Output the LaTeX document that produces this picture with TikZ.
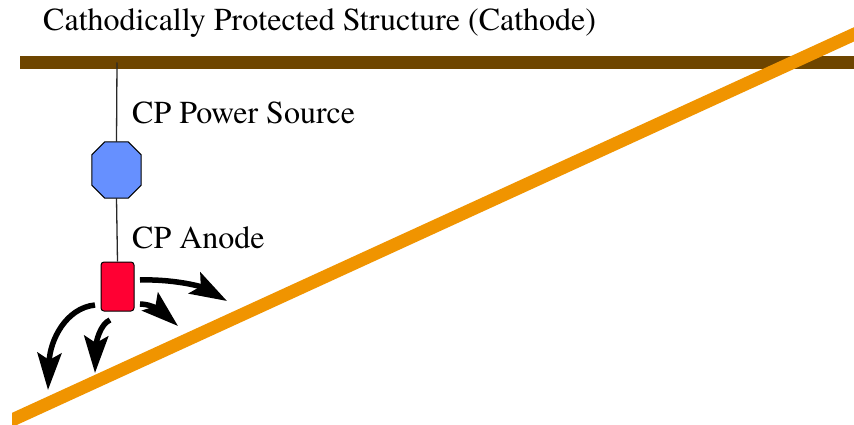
\documentclass[tikz,border=0pt]{standalone}
\usepackage{fontspec}
\newfontfamily\lblfont{TeX Gyre Termes}
\usetikzlibrary{arrows.meta}
\definecolor{barbrown}{RGB}{110,69,0}
\definecolor{soilorange}{RGB}{240,148,0}
\definecolor{srcblue}{RGB}{102,144,255}
\definecolor{anodered}{RGB}{255,0,51}
\definecolor{wiregray}{RGB}{40,40,40}
\tikzset{
  lbl/.style={anchor=base west,inner sep=0pt,font=\lblfont\fontsize{32}{38}\selectfont},
  wire/.style={draw=wiregray,line width=1.3pt},
  current/.style={line width=5.5pt,-{Stealth[length=37pt,width=24pt,inset=7pt]}},
  srcbox/.style={rectangle,minimum width=49pt,minimum height=56pt,inner sep=0pt},
  octo/.style={fill=srcblue,draw=black,line width=1pt},
  anodebox/.style={rectangle,rounded corners=3pt,minimum width=33pt,minimum height=49pt,
    inner sep=0pt,fill=anodered,draw=black,line width=1pt}
}
\begin{document}
\begin{tikzpicture}[x=1pt,y=-1pt]
\useasboundingbox (0,0) rectangle (854,425);
\fill[white] (0,0) rectangle (854,425);
% structure bar
\coordinate (barL) at (20,62.5);
\coordinate (barR) at (854,62.5);
\draw[barbrown,line width=13pt] (barL) -- (barR);
\node[lbl] (title) at (43,31) {Cathodically Protected Structure (Cathode)};
% nodes
\coordinate (tap) at (117,62.5);
\node[srcbox] (src) at (116.5,170) {};
\draw[octo] ([xshift=13pt]src.north west) -- ([xshift=-13pt]src.north east)
  -- ([yshift=-13pt]src.north east) -- ([yshift=13pt]src.south east)
  -- ([xshift=-13pt]src.south east) -- ([xshift=13pt]src.south west)
  -- ([yshift=13pt]src.south west) -- ([yshift=-13pt]src.north west) -- cycle;
\node[anodebox] (anode) at (117.5,286.5) {};
\node[lbl] (srclbl) at (132,124) {CP Power Source};
\node[lbl] (anlbl) at (132,248) {CP Anode};
\draw[wire] (tap) -- (src.north);
\draw[wire] (src.south) -- (anode.north);
% soil line
\begin{scope}
\clip (12,0) rectangle (854,425);
\coordinate (soilA) at (0,425.5);
\coordinate (soilB) at (860,31.6);
\draw[soilorange,line width=13pt] (soilA) -- (soilB);
\end{scope}
% current arrows
\coordinate (s1) at (140,280);
\coordinate (t1) at (227,301);
\coordinate (s2) at (140,304);
\coordinate (t2) at (178,326);
\coordinate (s3) at (95,305);
\coordinate (t3) at (48,390);
\coordinate (s4) at (110,320);
\coordinate (t4) at (95,373);
\draw[current] (s1) .. controls (172,279) and (200,286) .. (t1);
\draw[current] (s2) .. controls (152,304) and (162,312) .. (t2);
\draw[current] (s3) .. controls (66,308) and (50,340) .. (t3);
\draw[current] (s4) .. controls (100,324) and (96,343) .. (t4);
\end{tikzpicture}
\end{document}
